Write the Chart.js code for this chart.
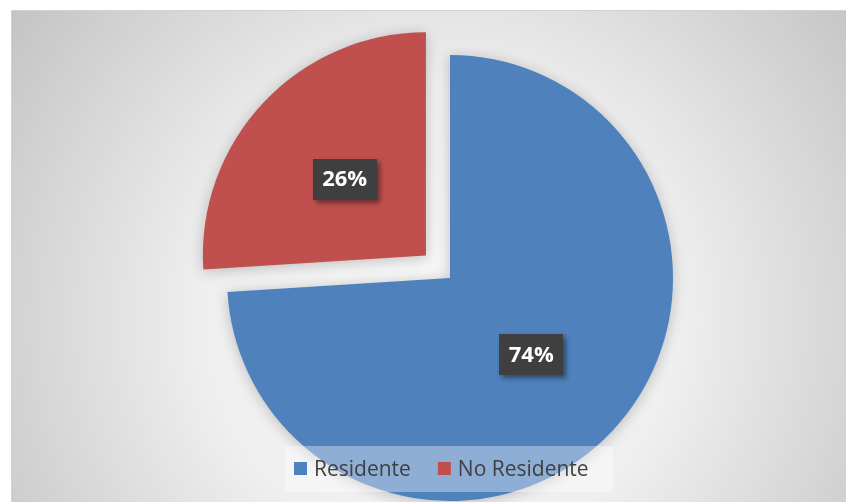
<!DOCTYPE html>
<html>
<head>
<meta charset="utf-8">
<script src="https://cdn.jsdelivr.net/npm/chart.js@4.4.1/dist/chart.umd.min.js"></script>
<style>
html, body { margin: 0; padding: 0; background: #ffffff; }
#wrap { width: 846px; height: 502px; }
</style>
</head>
<body>
<div id="wrap"><canvas id="mycanvas" width="846" height="502"></canvas></div>
<script>
// Data
var categories = ['Residente', 'No Residente'];
var values = [74, 26];
var sliceColors = ['#4F81BD', '#C0504D'];

// chart background: white margin, radial grey gradient
var bgPlugin = {
    id: 'bg',
    beforeDraw: function (chart) {
        var ctx = chart.ctx;
        ctx.save();
        ctx.fillStyle = '#ffffff';
        ctx.fillRect(0, 0, chart.width, chart.height);
        var g = ctx.createRadialGradient(440, 320, 0, 440, 320, 525);
        g.addColorStop(0, '#f7f7f7');
        g.addColorStop(0.45, '#efefef');
        g.addColorStop(1, '#c4c4c4');
        ctx.fillStyle = g;
        ctx.fillRect(12, 11, chart.width - 12, chart.height - 11);
        ctx.strokeStyle = '#d2d2d2';
        ctx.lineWidth = 1;
        ctx.beginPath();
        ctx.moveTo(11.5, chart.height);
        ctx.lineTo(11.5, 10.5);
        ctx.lineTo(chart.width, 10.5);
        ctx.stroke();
        ctx.restore();
    }
};

// soft shadow under the slices
var shadowPlugin = {
    id: 'shadow',
    beforeDatasetDraw: function (chart) {
        var ctx = chart.ctx;
        ctx.save();
        ctx.shadowColor = 'rgba(0,0,0,0.22)';
        ctx.shadowBlur = 14;
        ctx.shadowOffsetX = 0;
        ctx.shadowOffsetY = 2;
    },
    afterDatasetDraw: function (chart) {
        chart.ctx.restore();
    }
};

// percentage boxes + legend drawn over the pie
var labelPlugin = {
    id: 'pctLabels',
    afterDatasetsDraw: function (chart) {
        var ctx = chart.ctx;
        var meta = chart.getDatasetMeta(0);
        var data = chart.data.datasets[0].data;
        var total = data.reduce(function (a, b) { return a + b; }, 0);
        ctx.save();
        meta.data.forEach(function (arc, i) {
            var mid = (arc.startAngle + arc.endAngle) / 2;
            var r = arc.outerRadius / 2 + (arc.options.offset || 0) / 4;
            var cx = arc.x + Math.cos(mid) * r;
            var cy = arc.y + Math.sin(mid) * r;
            var w = 64, h = 41;
            ctx.save();
            ctx.shadowColor = 'rgba(0,0,0,0.45)';
            ctx.shadowBlur = 5;
            ctx.shadowOffsetX = 3;
            ctx.shadowOffsetY = 3;
            ctx.fillStyle = '#3f3f3f';
            ctx.fillRect(Math.round(cx - w / 2), Math.round(cy - h / 2), w, h);
            ctx.restore();
            ctx.fillStyle = '#ffffff';
            ctx.font = 'bold 22px "Open Sans"';
            ctx.textAlign = 'center';
            ctx.textBaseline = 'middle';
            ctx.fillText(Math.round(data[i] / total * 100) + '%', cx, cy + 1);
        });

        // legend band
        ctx.fillStyle = 'rgba(255,255,255,0.36)';
        ctx.fillRect(285, 446, 328, 46);

        ctx.font = '21px "Open Sans"';
        ctx.textBaseline = 'alphabetic';
        ctx.textAlign = 'left';
        var box = 13, gapText = 7, gapItem = 27;
        var widths = chart.data.labels.map(function (l) { return ctx.measureText(l).width; });
        var full = 0;
        widths.forEach(function (tw, i) { full += box + gapText + tw + (i ? gapItem : 0); });
        var x = Math.round(441 - full / 2);
        chart.data.labels.forEach(function (l, i) {
            ctx.fillStyle = chart.data.datasets[0].backgroundColor[i];
            ctx.fillRect(x, 462, box, box);
            ctx.fillStyle = '#404040';
            ctx.fillText(l, x + box + gapText, 476);
            x += box + gapText + widths[i] + gapItem;
        });
        ctx.restore();
    }
};

var ctx = document.getElementById('mycanvas').getContext('2d');
var myChart = new Chart(ctx, {
    type: 'pie',
    data: {
        labels: categories,
        datasets: [{
            data: values,
            backgroundColor: sliceColors,
            borderWidth: 0,
            offset: [0, 132]
        }]
    },
    options: {
        responsive: false,
        animation: false,
        radius: 223,
        layout: { padding: { left: 54, right: 0, top: 54, bottom: 0 } },
        plugins: {
            legend: { display: false },
            tooltip: { enabled: false }
        }
    },
    plugins: [bgPlugin, shadowPlugin, labelPlugin]
});
</script>
</body>
</html>
